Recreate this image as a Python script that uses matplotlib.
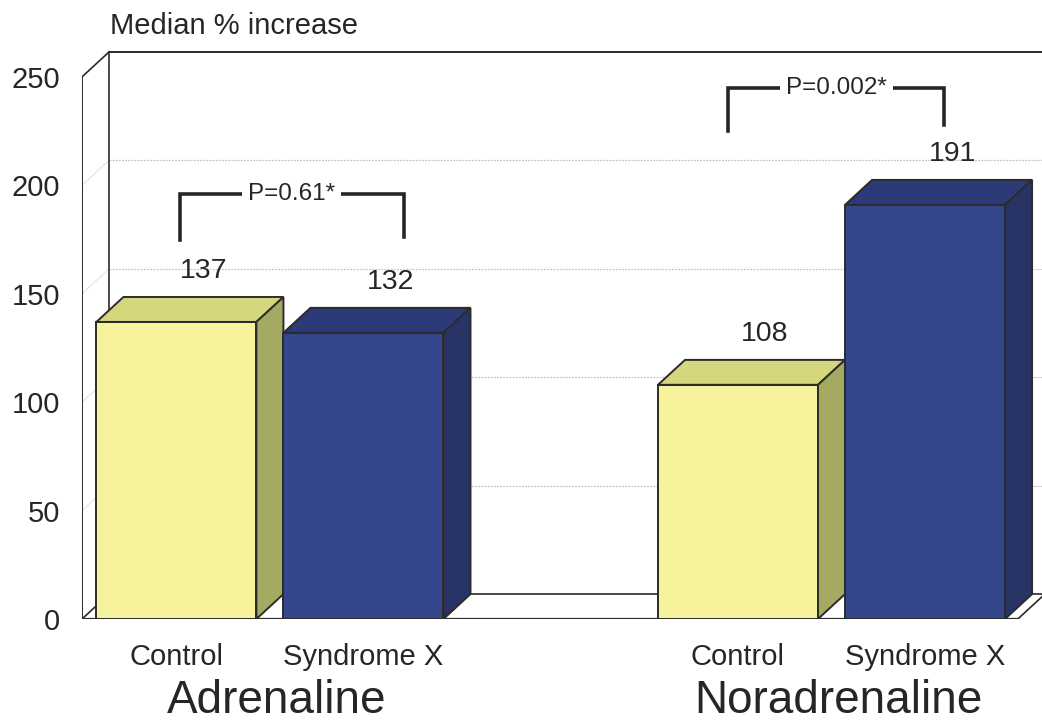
import matplotlib
matplotlib.use("Agg")
import matplotlib.pyplot as plt
from matplotlib.patches import Polygon, Rectangle

plt.rcParams["font.family"] = ["Liberation Sans", "DejaVu Sans"]

groups = ["Adrenaline", "Noradrenaline"]
subjects = ["Control", "Syndrome X"]
control = [137, 108]
syndrome_x = [132, 191]
p_labels = ["P=0.61*", "P=0.002*"]
yticks = [0, 50, 100, 150, 200, 250]

INK = "#262626"
EDGE = "#2b2b2b"
FACE = {"front": ["#f7f29c", "#34478d"],
        "top": ["#d6d77c", "#2d3a78"],
        "side": ["#a4aa62", "#293466"]}

W = 1.0            # bar width (x units)
DX, DY = 0.169, 11.5   # oblique depth offset
XMAX, YMAX = 6.0, 262.4
group_start = [0.09, 3.60]
# bracket legs (offset from group start) and heights
br_x = [(0.52, 1.92), (0.44, 1.79)]
br_top = [196, 245]
br_bot = [(175, 176), (225, 228)]

fig = plt.figure(figsize=(10.42, 7.24), dpi=100)
ax = fig.add_axes([82 / 1042, 1 - 619 / 724, 960 / 1042, 569 / 724])
ax.set_xlim(0, XMAX)
ax.set_ylim(0, YMAX)
for s in ax.spines.values():
    s.set_visible(False)

# back wall, side wall and floor
ax.plot([DX, XMAX], [250 + DY, 250 + DY], color=EDGE, lw=1.4, zorder=1, clip_on=False)
ax.plot([DX, DX], [DY, 250 + DY], color=EDGE, lw=1.2, zorder=1)
ax.plot([0, 0], [0, 250], color=EDGE, lw=1.4, zorder=1)
ax.plot([0, DX], [250, 250 + DY], color=EDGE, lw=1.2, zorder=1)
ax.plot([0, DX], [0, DY], color=EDGE, lw=1.2, zorder=1)
floor_end = group_start[1] + 2 * W + DX + 0.08
ax.plot([0, floor_end], [0, 0], color=EDGE, lw=1.6, zorder=1)
ax.plot([floor_end, floor_end + DX], [0, DY], color=EDGE, lw=1.2, zorder=1)
ax.plot([DX, XMAX], [DY, DY], color=EDGE, lw=1.2, zorder=1)
for v in yticks[1:-1]:
    ax.plot([DX, XMAX], [v + DY, v + DY], color="#c4c4c4", lw=0.9,
            ls=(0, (1.5, 1)), zorder=0.5)
    ax.plot([0, DX], [v, v + DY], color="#e4e4e4", lw=0.8, zorder=0.5)


def bar3d(x, h, k):
    ax.add_patch(Rectangle((x, 0), W, h, fc=FACE["front"][k], ec=EDGE, lw=1.4, zorder=3))
    ax.add_patch(Polygon([(x, h), (x + DX, h + DY), (x + W + DX, h + DY), (x + W, h)],
                         closed=True, fc=FACE["top"][k], ec=EDGE, lw=1.4, zorder=3))
    ax.add_patch(Polygon([(x + W, 0), (x + W + DX, DY), (x + W + DX, h + DY), (x + W, h)],
                         closed=True, fc=FACE["side"][k], ec=EDGE, lw=1.4, zorder=3))
    ax.text(x + W / 2 + DX, h + DY + 12, f"{h}", ha="center", va="center",
            fontsize=20.5, color=INK, zorder=4)


xt, xl = [], []
for g, name in enumerate(groups):
    vals = [control[g], syndrome_x[g]]
    lefts = [group_start[g] + k * (W + DX) for k in range(2)]
    for k, (x, h) in enumerate(zip(lefts, vals)):
        bar3d(x, h, k)
        xt.append(x + W / 2)
        xl.append(subjects[k])
    mid = (lefts[0] + lefts[1] + W) / 2 + 0.04
    ax.text(mid, -43.5, name, ha="center", va="baseline", fontsize=33, color=INK)

    # significance bracket
    a = group_start[g] + br_x[g][0]
    b = group_start[g] + br_x[g][1]
    ax.plot([a, a, b, b], [br_bot[g][0], br_top[g], br_top[g], br_bot[g][1]],
            color=INK, lw=2.6, solid_joinstyle="miter", zorder=4)
    ax.text((a + b) / 2, br_top[g], p_labels[g], ha="center", va="center",
            fontsize=17.5, color=INK, zorder=5,
            bbox=dict(boxstyle="square,pad=0.25", fc="white", ec="none"))

ax.set_xticks(xt, xl, fontsize=21, color=INK)
ax.set_yticks(yticks, [str(v) for v in yticks], fontsize=21, color=INK)
ax.tick_params(axis="both", length=0)
ax.tick_params(axis="x", pad=17)
ax.tick_params(axis="y", pad=16)

fig.text(110 / 1042, 1 - 34 / 724, "Median % increase", fontsize=21,
         color=INK, va="baseline", ha="left")

fig.savefig("out.png", dpi=100, facecolor="white")
